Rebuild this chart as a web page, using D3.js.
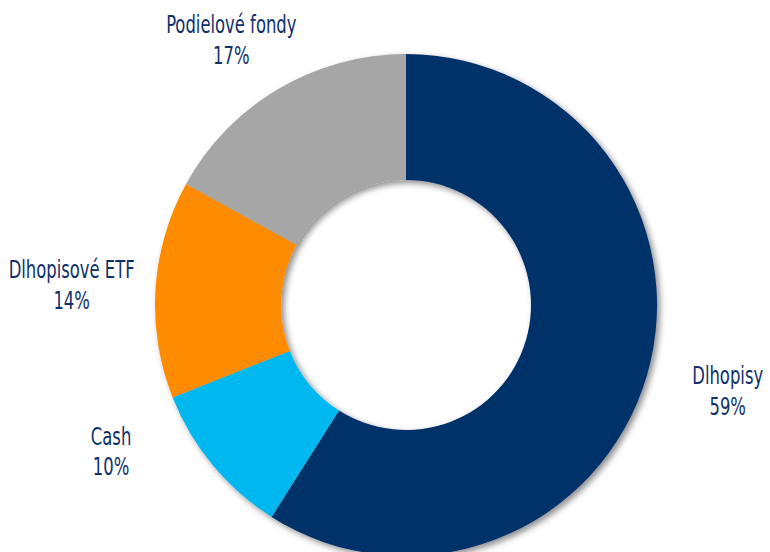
<!DOCTYPE html>
<html>
<head>
<meta charset="utf-8">
<script src="https://cdn.jsdelivr.net/npm/d3@7"></script>
<style>
  body { margin: 0; background: #fff; }
  text { font-family: "Liberation Sans Narrow", "DejaVu Sans Condensed", sans-serif; }
</style>
</head>
<body>
<script>
// data
var categories = ["Dlhopisy", "Cash", "Dlhopisové ETF", "Podielové fondy"];
var values = [59, 10, 14, 17];
var colors = ["#00306b", "#00b8ef", "#ff8c00", "#a6a6a6"];

var width = 770, height = 552;
var cx = 406, cy = 305;
var outerR = 251, innerR = 125;
var labelRx = 335, labelRy = 310;

var svg = d3.select("body")
    .append("svg")
    .attr("width", width)
    .attr("height", height);

// soft shadow like the original
var defs = svg.append("defs");
defs.append("filter")
    .attr("id", "shadow")
    .attr("x", "-20%").attr("y", "-20%")
    .attr("width", "140%").attr("height", "140%")
    .append("feDropShadow")
    .attr("dx", 3).attr("dy", 3)
    .attr("stdDeviation", 3)
    .attr("flood-color", "#000")
    .attr("flood-opacity", 0.45);

var pie = d3.pie().sort(null).value(d => d.value);
var arcs = pie(categories.map((c, i) => ({ name: c, value: values[i] })));

var arc = d3.arc().innerRadius(innerR).outerRadius(outerR);

var g = svg.append("g")
    .attr("transform", "translate(" + cx + "," + cy + ")");

g.append("g")
    .attr("filter", "url(#shadow)")
    .selectAll("path")
    .data(arcs)
    .join("path")
    .attr("d", arc)
    .attr("fill", (d, i) => colors[i]);

// labels sit on an ellipse round the doughnut, kept inside the picture
var lineH = 31;
var yMin = lineH / 2 + 25 - cy, yMax = height - 100 - cy;
function labelPos(d) {
    var a = (d.startAngle + d.endAngle) / 2;
    var x = labelRx * Math.sin(a), y = -labelRy * Math.cos(a);
    if (y < yMin || y > yMax) {
        y = Math.max(yMin, Math.min(yMax, y));
        x = Math.sign(x) * labelRx * Math.sqrt(1 - (y / labelRy) * (y / labelRy));
    }
    return [x, y];
}

var labels = g.append("g")
    .selectAll("text")
    .data(arcs)
    .join("text")
    .attr("transform", d => "translate(" + labelPos(d) + ") scale(0.73,1)")
    .attr("text-anchor", "middle")
    .attr("fill", "#10306a")
    .attr("font-size", 25);

labels.append("tspan")
    .attr("x", 0)
    .attr("y", -lineH / 2 + 8)
    .text(d => d.data.name);

labels.append("tspan")
    .attr("x", 0)
    .attr("y", lineH / 2 + 8)
    .text(d => d.data.value + "%");
</script>
</body>
</html>
